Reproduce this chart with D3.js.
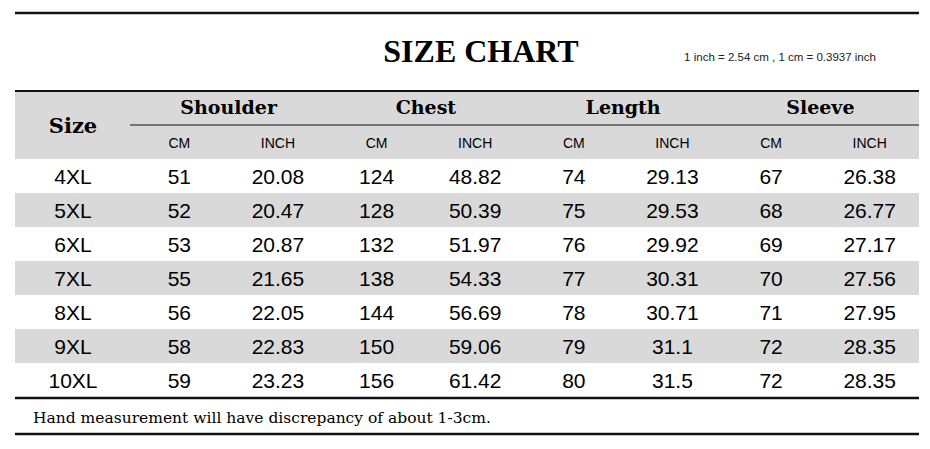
<!DOCTYPE html>
<html><head><meta charset="utf-8">
<script src="https://cdn.jsdelivr.net/npm/d3@7"></script>
<style>body{margin:0;background:#fff}</style>
</head><body><svg id="c" width="930" height="449"></svg>
<script>
const sizes = ['4XL','5XL','6XL','7XL','8XL','9XL','10XL'];
const groups = ['Shoulder','Chest','Length','Sleeve'];
const units = ['CM','INCH'];
const shoulder = [[51,'20.08'],[52,'20.47'],[53,'20.87'],[55,'21.65'],[56,'22.05'],[58,'22.83'],[59,'23.23']];
const chest = [[124,'48.82'],[128,'50.39'],[132,'51.97'],[138,'54.33'],[144,'56.69'],[150,'59.06'],[156,'61.42']];
const length = [[74,'29.13'],[75,'29.53'],[76,'29.92'],[77,'30.31'],[78,'30.71'],[79,'31.1'],[80,'31.5']];
const sleeve = [[67,'26.38'],[68,'26.77'],[69,'27.17'],[70,'27.56'],[71,'27.95'],[72,'28.35'],[72,'28.35']];
const series = [shoulder, chest, length, sleeve];

const svg = d3.select('#c');
const L = 15, R = 919, sizeW = 115;
const serif = 'Georgia, "DejaVu Serif", "Liberation Serif", serif';
const sans = 'Arial, "Liberation Sans", sans-serif';

// column scale for the 8 value columns
const cols = d3.range(8);
const x = d3.scaleBand().domain(cols).range([L + sizeW, R]);
const y = d3.scaleBand().domain(sizes).range([159, 397]);

// title
svg.append('text').attr('x', 481).attr('y', 62).attr('text-anchor', 'middle')
  .attr('font-family', '"Liberation Serif", serif').attr('font-weight', 'bold').attr('font-size', 32)
  .text('SIZE CHART');
svg.append('text').attr('x', 780).attr('y', 61).attr('text-anchor', 'middle')
  .attr('font-family', sans).attr('font-size', 11.5).attr('fill', '#222')
  .text('1 inch = 2.54 cm , 1 cm = 0.3937 inch');

// header background
svg.append('rect').attr('x', L).attr('y', 91).attr('width', R - L).attr('height', 68).attr('fill', '#d9d9d9');
// stripes
svg.selectAll('rect.row').data(sizes.filter((d, i) => i % 2 === 1)).enter().append('rect')
  .attr('x', L).attr('y', d => y(d)).attr('width', R - L).attr('height', y.bandwidth()).attr('fill', '#d9d9d9');

// lines
const hl = (yy, w, x0) => svg.append('line').attr('x1', x0 || L).attr('x2', R).attr('y1', yy).attr('y2', yy)
  .attr('stroke', '#111').attr('stroke-width', w);
hl(13, 2.5); hl(91, 2); hl(125, 1.2, L + sizeW); hl(398, 2.5); hl(434, 2.5);

svg.append('text').attr('x', 73).attr('y', 133).attr('text-anchor', 'middle')
  .attr('font-family', serif).attr('font-weight', 'bold').attr('font-size', 21).text('Size');

svg.selectAll('text.grp').data(groups).enter().append('text')
  .attr('x', (d, i) => x(i * 2) + x.bandwidth()).attr('y', 114).attr('text-anchor', 'middle')
  .attr('font-family', serif).attr('font-weight', 'bold').attr('font-size', 19).text(d => d);

svg.selectAll('text.unit').data(cols).enter().append('text')
  .attr('x', d => x(d) + x.bandwidth() / 2).attr('y', 148).attr('text-anchor', 'middle')
  .attr('font-family', sans).attr('font-size', 14).text(d => units[d % 2]);

// body
sizes.forEach((s, r) => {
  const yy = y(s) + y.bandwidth() / 2 + 8;
  svg.append('text').attr('x', 73).attr('y', yy).attr('text-anchor', 'middle')
    .attr('font-family', sans).attr('font-size', 21).text(s);
  series.forEach((ser, g) => {
    ser[r].forEach((v, k) => {
      const c = g * 2 + k;
      svg.append('text').attr('x', x(c) + x.bandwidth() / 2).attr('y', yy).attr('text-anchor', 'middle')
        .attr('font-family', sans).attr('font-size', 21).text(v);
    });
  });
});

svg.append('text').attr('x', 33).attr('y', 423).attr('font-family', serif).attr('font-size', 15.5)
  .text('Hand measurement will have discrepancy of about 1-3cm.');
</script></body></html>
